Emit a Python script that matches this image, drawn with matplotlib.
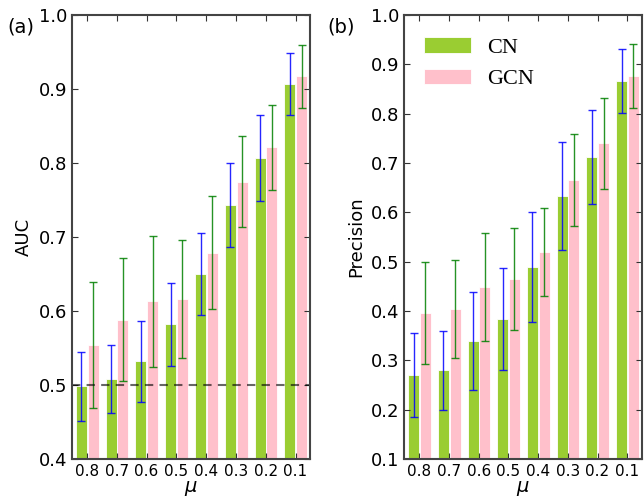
import numpy as np
import matplotlib
matplotlib.use("Agg")
import matplotlib.pyplot as plt

mu_labels = ["0.8", "0.7", "0.6", "0.5", "0.4", "0.3", "0.2", "0.1"]

# AUC
auc_cn = [0.498, 0.508, 0.532, 0.582, 0.650, 0.743, 0.807, 0.907]
auc_cn_err = [0.047, 0.046, 0.055, 0.056, 0.056, 0.057, 0.058, 0.042]
auc_gcn = [0.554, 0.588, 0.613, 0.616, 0.679, 0.775, 0.821, 0.917]
auc_gcn_err = [0.085, 0.083, 0.088, 0.080, 0.076, 0.062, 0.058, 0.043]

# Precision
pre_cn = [0.270, 0.280, 0.339, 0.384, 0.489, 0.633, 0.712, 0.866]
pre_cn_err = [0.085, 0.080, 0.100, 0.103, 0.112, 0.110, 0.096, 0.065]
pre_gcn = [0.396, 0.404, 0.449, 0.465, 0.519, 0.666, 0.740, 0.876]
pre_gcn_err = [0.103, 0.099, 0.110, 0.103, 0.089, 0.093, 0.092, 0.065]

plt.rcParams["font.family"] = "DejaVu Sans"

fig = plt.figure(figsize=(6.44, 5.0), dpi=100)
ax1 = fig.add_axes([0.112, 0.082, 0.370, 0.888])
ax2 = fig.add_axes([0.628, 0.082, 0.369, 0.888])

ind = np.arange(len(mu_labels))
w = 0.37


def painel(ax, cn, cn_err, gcn, gcn_err, ylim, ylabel):
    ax.bar(ind + 0.31, cn, w, color="yellowgreen", edgecolor="white", linewidth=0.6, label="CN")
    ax.bar(ind + 0.705, gcn, w, color="pink", edgecolor="white", linewidth=0.6, label="GCN")
    ax.errorbar(ind + 0.31, cn, yerr=cn_err, fmt="none", ecolor="blue", elinewidth=1,
                capsize=3, capthick=1, alpha=0.85)
    ax.errorbar(ind + 0.705, gcn, yerr=gcn_err, fmt="none", ecolor="green", elinewidth=1,
                capsize=3, capthick=1, alpha=0.85)
    ax.set_xlim(0, len(mu_labels))
    ax.set_ylim(*ylim)
    ax.set_xticks(ind + 0.5)
    ax.set_xticklabels(mu_labels, fontsize=11)
    ax.tick_params(axis="y", labelsize=13)
    ax.tick_params(direction="in", top=True, right=True, length=4, color="#333333")
    for s in ax.spines.values():
        s.set_color("#444444")
        s.set_linewidth(1.5)
    ax.set_ylabel(ylabel, fontsize=13, labelpad=4)
    ax.set_xlabel(r"$\mu$", fontsize=14, labelpad=0)


painel(ax1, auc_cn, auc_cn_err, auc_gcn, auc_gcn_err, (0.4, 1.0), "AUC")
ax1.axhline(0.5, color="black", linestyle="--", linewidth=1.5, alpha=0.6, dashes=(4, 3))
ax1.set_yticks(np.arange(0.4, 1.01, 0.1))

painel(ax2, pre_cn, pre_cn_err, pre_gcn, pre_gcn_err, (0.1, 1.0), "Precision")
ax2.set_yticks(np.arange(0.1, 1.01, 0.1))
ax2.legend(loc="upper left", bbox_to_anchor=(0.0, 0.995), frameon=False,
           prop={"family": "Liberation Serif", "size": 16},
           handlelength=2.1, handleheight=0.7, handletextpad=0.7, labelspacing=0.5)

fig.text(0.012, 0.935, "(a)", fontsize=14)
fig.text(0.508, 0.935, "(b)", fontsize=14)

fig.savefig("out.png", dpi=100)
